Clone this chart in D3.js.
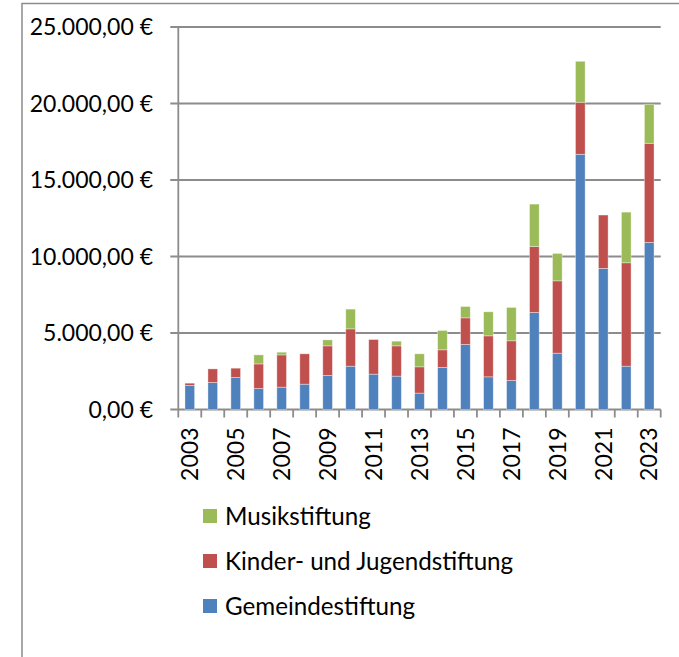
<!doctype html>
<html lang="de">
<head>
<meta charset="utf-8">
<title>Stiftungen</title>
<script src="https://cdn.jsdelivr.net/npm/d3@7"></script>
<style>
  body { margin: 0; background: #fff; }
  svg { display: block; font-family: Lato, "Open Sans", sans-serif; }
  .lbl { font-size: 23px; fill: #000; }
  .leg { font-size: 24.2px; fill: #000; }
</style>
</head>
<body>
<div id="viz"></div>
<script>
// DATA
var years = ["2003","2004","2005","2006","2007","2008","2009","2010","2011","2012","2013",
             "2014","2015","2016","2017","2018","2019","2020","2021","2022","2023"];
var gemeinde = [1570, 1765, 2090, 1370, 1460, 1655, 2220, 2830, 2310, 2180, 1070,
                2745, 4250, 2135, 1895, 6340, 3680, 16680, 9220, 2830, 10920];
var kinder   = [150, 890, 610, 1610, 2110, 1985, 1940, 2440, 2265, 1980, 1720,
                1155, 1740, 2680, 2595, 4315, 4730, 3400, 3490, 6760, 6480];
var musik    = [0, 0, 0, 590, 175, 0, 390, 1290, 0, 305, 850,
                1265, 740, 1570, 2180, 2770, 1790, 2680, 0, 3310, 2550];
var seriesNames = ["Gemeindestiftung", "Kinder- und Jugendstiftung", "Musikstiftung"];
var colors = ["#4f81bd", "#c0504d", "#9bbb59"];
var yTicks = [0, 5000, 10000, 15000, 20000, 25000];

// Dimensions
var w = 679, h = 657;
var plotLeft = 178.3, plotRight = 660.7, plotTop = 27, plotBottom = 409.5;

var de = d3.formatLocale({decimal: ",", thousands: ".", grouping: [3], currency: ["", " €"]});
var fmt = de.format("$,.2f");

var rows = years.map(function(y, i) {
  return {year: y, Gemeindestiftung: gemeinde[i], "Kinder- und Jugendstiftung": kinder[i], Musikstiftung: musik[i]};
});
var stacked = d3.stack().keys(seriesNames)(rows);

var svg = d3.select("#viz").append("svg")
  .attr("width", w)
  .attr("height", h);

// frame
svg.append("path")
  .attr("d", "M22,657 L22,3.5 L679,3.5")
  .attr("fill", "none")
  .attr("stroke", "#8c8c8c")
  .attr("stroke-width", 1.5);

var x = d3.scaleBand()
  .domain(years)
  .range([plotLeft, plotRight])
  .paddingInner(0.58)
  .paddingOuter(0.29);

var y = d3.scaleLinear()
  .domain([0, 25000])
  .range([plotBottom, plotTop]);

// gridlines + left ticks
svg.append("g").selectAll("line")
  .data(yTicks)
  .enter().append("line")
  .attr("x1", plotLeft - 8)
  .attr("x2", plotRight)
  .attr("y1", function(d) { return y(d); })
  .attr("y2", function(d) { return y(d); })
  .attr("stroke", "#8c8c8c")
  .attr("stroke-width", 1.8);

// y labels
svg.append("g").selectAll("text")
  .data(yTicks)
  .enter().append("text")
  .attr("class", "lbl")
  .attr("x", 153)
  .attr("y", function(d) { return y(d); })
  .attr("dy", "0.36em")
  .attr("text-anchor", "end")
  .text(function(d) { return fmt(d); });

// bars
svg.append("g").selectAll("g")
  .data(stacked)
  .enter().append("g")
  .attr("fill", function(d, i) { return colors[i]; })
  .selectAll("rect")
  .data(function(d) { return d; })
  .enter().append("rect")
  .attr("x", function(d) { return x(d.data.year); })
  .attr("width", x.bandwidth())
  .attr("y", function(d) { return y(d[1]); })
  .attr("height", function(d) { return y(d[0]) - y(d[1]); })
  .attr("stroke", "rgba(255,255,255,0.45)")
  .attr("stroke-width", 0.8);

// left axis line
svg.append("line")
  .attr("x1", plotLeft).attr("x2", plotLeft)
  .attr("y1", plotTop).attr("y2", plotBottom)
  .attr("stroke", "#8c8c8c")
  .attr("stroke-width", 1.8);

// bottom ticks at band edges
var edges = d3.range(years.length + 1).map(function(i) { return plotLeft + i * x.step(); });
svg.append("g").selectAll("line")
  .data(edges)
  .enter().append("line")
  .attr("x1", function(d) { return d; })
  .attr("x2", function(d) { return d; })
  .attr("y1", plotBottom)
  .attr("y2", plotBottom + 8)
  .attr("stroke", "#8c8c8c")
  .attr("stroke-width", 1.8);

// year labels, every second year
svg.append("g").selectAll("text")
  .data(years.filter(function(d, i) { return i % 2 === 0; }))
  .enter().append("text")
  .attr("class", "lbl")
  .attr("transform", function(d) {
    return "translate(" + (x(d) + x.bandwidth() / 2) + "," + (plotBottom + 18) + ") rotate(-90)";
  })
  .attr("text-anchor", "end")
  .attr("dy", "0.36em")
  .text(function(d) { return d; });

// legend
var legOrder = [2, 1, 0];
var leg = svg.append("g").selectAll("g")
  .data(legOrder)
  .enter().append("g")
  .attr("transform", function(d, i) { return "translate(203," + (516 + i * 45) + ")"; });
leg.append("rect")
  .attr("x", 0).attr("y", -7)
  .attr("width", 14).attr("height", 14)
  .attr("fill", function(d) { return colors[d]; });
leg.append("text")
  .attr("class", "leg")
  .attr("x", 22)
  .attr("dy", "0.36em")
  .text(function(d) { return seriesNames[d]; });
</script>
</body>
</html>
